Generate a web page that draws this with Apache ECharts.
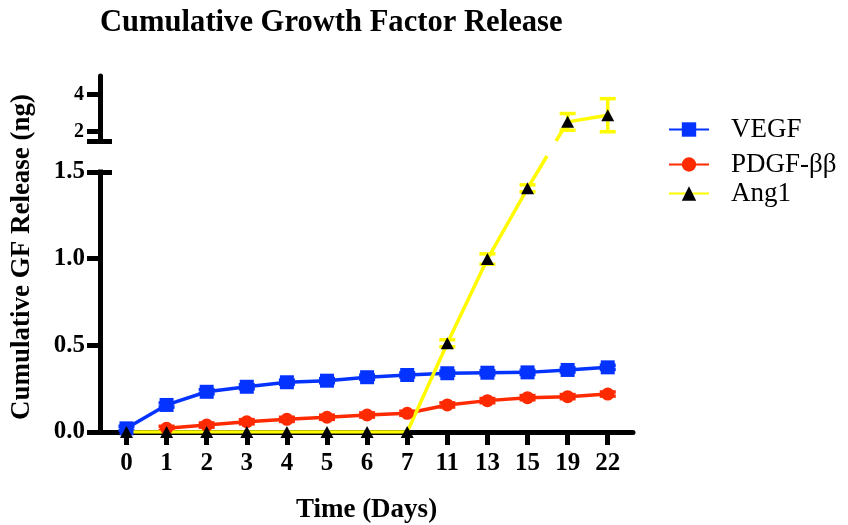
<!DOCTYPE html>
<html>
<head>
<meta charset="utf-8">
<script src="https://cdn.jsdelivr.net/npm/echarts@6/dist/echarts.min.js"></script>
<style>
  html, body { margin: 0; padding: 0; background: #fff; }
  #chart { width: 848px; height: 525px; }
</style>
</head>
<body>
<div id="chart"></div>
<script>
// Sampling days (categorical positions on the x axis)
const days = ['0', '1', '2', '3', '4', '5', '6', '7', '11', '13', '15', '19', '22'];

// Cumulative release (ng)
const vegf   = [0.021, 0.156, 0.232, 0.261, 0.287, 0.296, 0.316, 0.329, 0.339, 0.342, 0.344, 0.358, 0.373];
const pdgf   = [null, 0.021, 0.040, 0.059, 0.073, 0.085, 0.098, 0.108, 0.156, 0.181, 0.198, 0.204, 0.219];
const ang1   = [0, 0, 0, 0, 0, 0, 0, 0, 0.512, 0.998, 1.406, 2.53, 2.89];

// Standard deviations
const vegfSd = [0.012, 0.012, 0.012, 0.012, 0.012, 0.012, 0.012, 0.012, 0.012, 0.012, 0.012, 0.012, 0.012];
const pdgfSd = [0, 0.012, 0.012, 0.012, 0.012, 0.012, 0.012, 0.012, 0.012, 0.012, 0.012, 0.012, 0.012];
const ang1Sd = [0, 0, 0, 0, 0, 0, 0, 0, 0.02, 0.03, 0.02, 0.45, 0.89];

// Tick values of the broken y axis
const lowerTicks = [0, 0.5, 1.0, 1.5];
const upperTicks = [2, 4];
const lowerRange = [0, 1.5];
const upperRange = [1.5, 5];

const SERIF = 'Liberation Serif';
const BLUE = '#0433ff', RED = '#ff2a00', YELLOW = '#fffb00';
const X_MIN = -0.66, X_MAX = 12.63;
const LINE_W = 3.5;
const idx = days.map((d, i) => i);

const pairs = arr => arr.map((v, i) => [i, v == null ? '-' : v]);
// keep only the points that fall inside one segment of the broken axis
const within = (arr, range) => arr.map(v => (v == null || v < range[0] || v > range[1]) ? null : v);
const errData = (vals, sds) => vals
  .map((v, i) => [i, v == null ? 0 : v - sds[i], v == null ? 0 : v + sds[i], sds[i]])
  .filter((d, i) => vals[i] != null && sds[i] > 0);

function errorBar(color, half) {
  return function (params, api) {
    const i = api.value(0);
    const lo = api.coord([i, api.value(1)]);
    const hi = api.coord([i, api.value(2)]);
    const style = { stroke: color, lineWidth: LINE_W, fill: null };
    return {
      type: 'group',
      children: [
        { type: 'line', shape: { x1: lo[0], y1: lo[1], x2: hi[0], y2: hi[1] }, style },
        { type: 'line', shape: { x1: lo[0] - half, y1: lo[1], x2: lo[0] + half, y2: lo[1] }, style },
        { type: 'line', shape: { x1: hi[0] - half, y1: hi[1], x2: hi[0] + half, y2: hi[1] }, style }
      ]
    };
  };
}

const blackLine = { color: '#000', width: 5 };
const tickFont = { fontFamily: SERIF, fontWeight: 'bold', color: '#000' };

// grid 0 = upper segment (2–4), grid 1 = lower segment (0–1.5)
const xAxes = [
  { gridIndex: 0, type: 'value', min: X_MIN, max: X_MAX, show: false },
  {
    gridIndex: 1, type: 'value', min: X_MIN, max: X_MAX, position: 'bottom',
    axisLine: { onZero: false, lineStyle: blackLine },
    axisTick: { length: 13, lineStyle: blackLine, customValues: idx },
    axisLabel: {
      customValues: idx, formatter: v => days[Math.round(v)],
      fontSize: 25, margin: 19, ...tickFont
    },
    splitLine: { show: false },
    name: 'Time (Days)', nameLocation: 'middle', nameGap: 65,
    nameTextStyle: { fontFamily: SERIF, fontWeight: 'bold', fontSize: 27, color: '#000' }
  }
];

const yAxes = [
  {
    gridIndex: 0, type: 'value', min: upperRange[0], max: upperRange[1], position: 'left',
    axisLine: { show: true, onZero: false, lineStyle: blackLine },
    axisTick: { show: true, length: 13, lineStyle: blackLine, customValues: [upperRange[0]].concat(upperTicks) },
    axisLabel: { customValues: upperTicks, fontSize: 20, margin: 16, ...tickFont },
    splitLine: { show: false }
  },
  {
    gridIndex: 1, type: 'value', min: lowerRange[0], max: lowerRange[1], position: 'left',
    axisLine: { show: true, onZero: false, lineStyle: { ...blackLine, cap: 'square' } },
    axisTick: { show: true, length: 13, lineStyle: blackLine, customValues: lowerTicks },
    axisLabel: { customValues: lowerTicks, formatter: v => v.toFixed(1), fontSize: 25, margin: 15, ...tickFont },
    splitLine: { show: false }
  },
  // inward stubs that close each side of the axis break
  {
    gridIndex: 0, type: 'value', min: upperRange[0], max: upperRange[1], position: 'left',
    axisLine: { show: false, onZero: false },
    axisTick: { show: true, inside: true, length: 12, lineStyle: blackLine, customValues: [upperRange[0]] },
    axisLabel: { show: false }, splitLine: { show: false }
  },
  {
    gridIndex: 1, type: 'value', min: lowerRange[0], max: lowerRange[1], position: 'left',
    axisLine: { show: false, onZero: false },
    axisTick: { show: true, inside: true, length: 12, lineStyle: blackLine, customValues: [lowerRange[1]] },
    axisLabel: { show: false }, splitLine: { show: false }
  }
];

function lineSeries(name, data, color, symbol, size, symbolColor, xi, yi) {
  return {
    name, type: 'line', data: pairs(data), xAxisIndex: xi, yAxisIndex: yi,
    symbol, symbolSize: size, clip: true,
    lineStyle: { color, width: LINE_W },
    itemStyle: { color: symbolColor },
    emphasis: { disabled: true }
  };
}
function errSeries(name, vals, sds, color, xi, yi) {
  return {
    name, type: 'custom', xAxisIndex: xi, yAxisIndex: yi, clip: true,
    renderItem: errorBar(color, 8), data: errData(vals, sds),
    encode: { x: 0, y: [1, 2] }, silent: true
  };
}

const ang1Lower = within(ang1, lowerRange);
const ang1Upper = within(ang1, upperRange);

const series = [
  errSeries('VEGF SD', vegf, vegfSd, BLUE, 1, 1),
  errSeries('PDGF SD', pdgf, pdgfSd, RED, 1, 1),
  lineSeries('VEGF', vegf, BLUE, 'rect', 14, BLUE, 1, 1),
  lineSeries('PDGF-ββ', pdgf, RED, 'circle', 13, RED, 1, 1),
  errSeries('Ang1 SD', ang1Lower, ang1Sd, YELLOW, 1, 1),
  errSeries('Ang1 SD', ang1Upper, ang1Sd, YELLOW, 0, 0),
  lineSeries('Ang1', ang1Lower, YELLOW, 'triangle', [13, 12], '#000', 1, 1),
  lineSeries('Ang1', ang1Upper, YELLOW, 'triangle', [13, 12], '#000', 0, 0)
];

const legendBase = {
  orient: 'vertical', left: 668, padding: 0, itemWidth: 40, itemHeight: 18,
  selectedMode: false,
  textStyle: { fontFamily: SERIF, fontSize: 27, color: '#000', padding: [0, 0, 0, 17] }
};

const yName = {
  type: 'text', x: 22, y: 257, rotation: Math.PI / 2,
  style: {
    text: 'Cumulative GF Release (ng)', fill: '#000',
    font: 'bold 27px "Liberation Serif"', align: 'center', verticalAlign: 'middle'
  }
};

const chart = echarts.init(document.getElementById('chart'), null, { renderer: 'canvas' });
chart.setOption({
  animation: false,
  backgroundColor: '#fff',
  title: {
    text: 'Cumulative Growth Factor Release', left: 100, top: 8, padding: 0,
    textStyle: { fontFamily: SERIF, fontWeight: 'bold', fontSize: 30.6, color: '#000' }
  },
  legend: [
    { ...legendBase, top: 116, data: ['VEGF'] },
    { ...legendBase, top: 151, data: ['PDGF-ββ'] },
    { ...legendBase, top: 180, data: ['Ang1'] }
  ],
  grid: [
    { left: 100, right: 215, top: 76, height: 65, outerBoundsMode: 'none', containLabel: false },
    { left: 100, right: 215, top: 172, height: 260, outerBoundsMode: 'none', containLabel: false }
  ],
  xAxis: xAxes,
  yAxis: yAxes,
  series,
  graphic: [yName]
});

// Ang1 segment that jumps across the axis break: a straight screen-space line
// from the last lower point to the first upper point, interrupted in the gap.
const bridges = [];
const lowerTop = chart.convertToPixel({ gridIndex: 1 }, [0, lowerRange[1]])[1];
const upperBottom = chart.convertToPixel({ gridIndex: 0 }, [0, upperRange[0]])[1];
for (let i = 0; i < ang1.length - 1; i++) {
  const a = ang1[i], b = ang1[i + 1];
  if (a <= lowerRange[1] && b >= upperRange[0] && b > lowerRange[1]) {
    const p = chart.convertToPixel({ gridIndex: 1 }, [i, a]);
    const q = chart.convertToPixel({ gridIndex: 0 }, [i + 1, b]);
    const at = y => [p[0] + (q[0] - p[0]) * (p[1] - y) / (p[1] - q[1]), y];
    const lowEnd = at(lowerTop - 16);
    const upStart = at(upperBottom);
    const st = { stroke: YELLOW, lineWidth: LINE_W };
    bridges.push(
      { type: 'line', z: 1, shape: { x1: p[0], y1: p[1], x2: lowEnd[0], y2: lowEnd[1] }, style: st },
      { type: 'line', z: 1, shape: { x1: upStart[0], y1: upStart[1], x2: q[0], y2: q[1] }, style: st }
    );
  }
}
chart.setOption({ graphic: [yName].concat(bridges) }, { replaceMerge: ['graphic'] });
</script>
</body>
</html>
